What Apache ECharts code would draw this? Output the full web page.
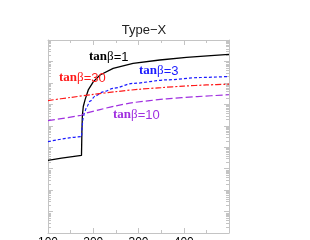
<!DOCTYPE html>
<html><head><meta charset="utf-8">
<script src="https://cdn.jsdelivr.net/npm/echarts@6/dist/echarts.min.js"></script>
<style>html,body{margin:0;padding:0;background:#fff}#c{width:310px;height:240px}</style>
</head><body><div id="c"></div>
<script>
// x: charged Higgs mass; y: values (log axis)
const xTicks = [100, 200, 300, 400, 500];
const blackX = [100,130,174,175,176,178,182,189,200,215,244,288,347,406,460,500];
const blackY = [2.45e-4,3.09e-4,4.17e-4,6.3e-3,3.16e-2,7.9e-2,0.166,0.468,1.12,2.34,4.79,8.13,11.7,15.5,18.6,21.4];
const blueX = [100,174,175.5,177.5,181,186,193,205,222,245,288,362,436,500];
const blueY = [1.82e-3,3.09e-3,1.0e-2,2.24e-2,4.47e-2,7.94e-2,0.141,0.251,0.380,0.562,0.95,1.38,1.78,2.0];
const redX = [100,150,200,250,300,350,400,450,500];
const redY = [0.15,0.21,0.29,0.39,0.50,0.60,0.71,0.80,0.87];
const purpleX = [100,174,180,215,250,288,362,430,500];
const purpleY = [0.0175,0.0310,0.0370,0.0570,0.085,0.120,0.180,0.230,0.280];
const seriesNames = ['tanβ=1','tanβ=3','tanβ=30','tanβ=10'];
const yDecades = [1e-7,1e-6,1e-5,1e-4,1e-3,1e-2,1e-1,1,10];

function pairs(xs, ys){ return xs.map((x,i)=>[x, ys[i]]); }

const chart = echarts.init(document.getElementById('c'), null, {renderer:'canvas'});
const frame = '#c4c4c4';
const axisCommon = {
  axisLine:{show:true, lineStyle:{color:frame, width:1}},
  axisTick:{show:true, inside:true, length:5, lineStyle:{color:frame}},
  splitLine:{show:false}
};
function lbl(color, num){
  return {
    type:'text', z:100, style:{
      text:'{t|tan}{b|β}{n|=' + num + '}', fill:color, verticalAlign:'middle',
      rich:{
        t:{fontFamily:'Liberation Serif', fontWeight:'bold', fontSize:13, fill:color},
        b:{fontFamily:'Liberation Serif', fontSize:13, fill:color},
        n:{fontFamily:'Liberation Sans', fontSize:13, fill:color}
      }
    }
  };
}
const labels = [
  Object.assign(lbl('#000','1'), {x:89, y:57}),
  Object.assign(lbl('#1a1aff','3'), {x:139, y:71}),
  Object.assign(lbl('#ff1a1a','30'), {x:59, y:78}),
  Object.assign(lbl('#a030e0','10'), {x:113, y:115})
];

const xMinor = {show:true, splitNumber:2, length:3, lineStyle:{color:frame}};
chart.setOption({
  animation:false,
  title:{text:'Type−X', left:139, top:19, textAlign:'center',
    textStyle:{fontFamily:'Liberation Sans', fontSize:13, fontWeight:'normal', color:'#222'}},
  grid:{left:48, right:81, top:40, bottom:7, containLabel:false, outerBoundsMode:'none'},
  xAxis:[
    Object.assign({type:'value', min:100, max:500, interval:100, position:'bottom',
      axisLabel:{show:true, margin:4, showMaxLabel:false, fontFamily:'Liberation Sans', fontSize:12, color:'#000',
        formatter:(v)=> xTicks.includes(v) ? String(v) : ''}}, axisCommon, {minorTick:xMinor}),
    Object.assign({type:'value', min:100, max:500, interval:100, position:'top', axisLabel:{show:false}}, axisCommon,
      {minorTick:xMinor})
  ],
  yAxis:[
    Object.assign({type:'log', min:1e-7, max:100, logBase:10, position:'left', axisLabel:{show:false}}, axisCommon),
    Object.assign({type:'log', min:1e-7, max:100, logBase:10, position:'right', axisLabel:{show:false}}, axisCommon)
  ],
  series:[
    {name:seriesNames[0], type:'line', data:pairs(blackX, blackY), showSymbol:false, smooth:false,
      lineStyle:{color:'#000', width:1.3}},
    {name:seriesNames[1], type:'line', data:pairs(blueX, blueY), showSymbol:false, smooth:0.3, smoothMonotone:'x',
      lineStyle:{color:'#1a1aff', width:1.2, type:[3,2]}},
    {name:seriesNames[2], type:'line', data:pairs(redX, redY), showSymbol:false, smooth:0.3,
      lineStyle:{color:'#ff1a1a', width:1.2, type:[6,2,2,2]}},
    {name:seriesNames[3], type:'line', data:pairs(purpleX, purpleY), showSymbol:false, smooth:0.3,
      lineStyle:{color:'#a030e0', width:1.2, type:[7,3]}}
  ]
});

// log-style minor ticks on the y axes, positioned via the axis scale
const gfx = labels.slice();
const xl = chart.convertToPixel({xAxisIndex:0}, 100);
const xr = chart.convertToPixel({xAxisIndex:0}, 500);
yDecades.forEach(d => {
  for (let k = 2; k <= 9; k++) {
    const py = Math.round(chart.convertToPixel({yAxisIndex:0}, d*k)) + 0.5;
    gfx.push({type:'line', silent:true, shape:{x1:xl, y1:py, x2:xl+3, y2:py}, style:{stroke:frame, lineWidth:1}});
    gfx.push({type:'line', silent:true, shape:{x1:xr-3, y1:py, x2:xr, y2:py}, style:{stroke:frame, lineWidth:1}});
  }
});
chart.setOption({graphic:gfx});
</script>
</body></html>
